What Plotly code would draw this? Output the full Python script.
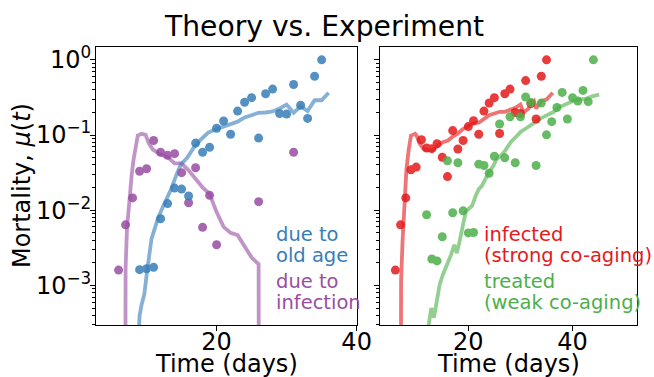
import plotly.graph_objects as go

# ---------------- data ----------------
# Left panel: experiment points
age_days = [9, 10, 11, 12, 13, 14, 15, 16, 17, 18, 19, 20, 21, 22, 23, 24, 25, 26, 27, 28, 29, 30, 31, 32, 33, 34, 35]
age_mu = [0.00162, 0.00167, 0.00174, 0.00771, 0.01225, 0.0197, 0.0191, 0.01545, 0.0782, 0.059, 0.0686, 0.123,
          0.1535, 0.1026, 0.208, 0.273, 0.314, 0.091, 0.354, 0.408, 0.1936, 0.190, 0.470, 0.249, 0.1663, 0.604, 1.0]

inf_days = [6, 7, 8, 9, 10, 11, 12, 13, 14, 15, 16, 17, 18, 19, 20, 26, 31]
inf_mu = [0.0016, 0.0064, 0.0146, 0.033, 0.0356, 0.0847, 0.059, 0.0538, 0.0566, 0.0316, 0.0126, 0.0367,
          0.00593, 0.01578, 0.00348, 0.0130, 0.059]

# Left panel: theory lines
age_th_days = [8.5, 9.0, 9.3, 9.67, 10.0, 10.33, 10.7, 11.16, 11.6, 12.3, 12.9, 13.5, 14.2, 14.9, 15.8, 16.7,
               17.7, 18.8, 20, 21, 22, 23, 24, 25, 26, 27, 28, 29, 30, 31, 32, 33, 34, 35, 36]
age_th_mu = [5.0e-5, 3.98e-4, 5.62e-4, 7.59e-4, 1.38e-3, 2.29e-3, 4.17e-3, 5.69e-3, 7.71e-3, 1.096e-2,
             1.413e-2, 1.905e-2, 2.86e-2, 4.07e-2, 4.97e-2, 6.73e-2, 8.65e-2, 0.1079, 0.1205, 0.1294,
             0.139, 0.1507, 0.1714, 0.184, 0.1977, 0.1995, 0.2056, 0.2254, 0.254, 0.1977, 0.2415, 0.208,
             0.290, 0.290, 0.3656]

inf_th_days = [6.5, 7.0, 7.2, 7.44, 7.67, 7.9, 8.14, 8.37, 8.6, 8.74, 9.3, 9.86, 10.3, 10.9, 12, 13, 14,
               15, 16, 17, 18, 19, 20, 21, 22, 23, 24, 25, 26, 26.5]
inf_th_mu = [0, 1.70e-3, 5.70e-3, 1.153e-2, 1.91e-2, 3.16e-2, 4.73e-2, 6.40e-2, 8.65e-2, 9.86e-2, 0.1038,
             0.1007, 0.0782, 0.064, 5.50e-2, 5.13e-2, 4.19e-2, 4.19e-2, 3.39e-2, 2.58e-2, 2.01e-2,
             1.64e-2, 9.44e-3, 6.0e-3, 5.0e-3, 4.66e-3, 3.27e-3, 2.35e-3, 1.92e-3, 0]

# Right panel: experiment points
strong_days = list(range(6, 36))
strong_mu = [0.0016, 0.0064, 0.0146, 0.0346, 0.0375, 0.0865, 0.0673, 0.0659, 0.0767, 0.0507, 0.0280,
             0.1146, 0.0653, 0.0847, 0.1294, 0.1552, 0.1026, 0.208, 0.267, 0.314, 0.1047, 0.354, 0.408,
             0.1995, 0.1936, 0.530, 0.262, 0.1633, 0.604, 1.0]

weak_days = list(range(12, 45))
weak_mu = [0.00871, 0.00225, 0.00212, 0.00444, 0.0454, 0.00925, 0.0428, 0.00982, 0.0050, 0.00505, 0.0410,
           0.0394, 0.0310, 0.0522, 0.140, 0.0497, 0.175, 0.0428, 0.175, 0.321, 0.270, 0.0394, 0.267,
           0.1007, 0.1507, 0.232, 0.369, 0.1633, 0.314, 0.284, 0.392, 0.278, 1.0]

# Right panel: theory lines
strong_th_days = [6.5, 7.1, 7.375, 7.75, 8.125, 8.56, 9.0, 9.8, 10.1, 10.6, 11.4, 12.3, 13.25, 14.2, 15.1,
                  16.1, 17, 17.9, 18.9, 20, 21, 22, 23, 24, 25, 26, 27, 28, 29, 30, 30.6, 31.5, 32, 32.6,
                  33, 34, 35, 36.2]
strong_th_mu = [0, 1.14e-3, 3.80e-3, 1.276e-2, 3.49e-2, 6.40e-2, 9.86e-2, 0.1038, 9.77e-2, 7.82e-2,
                6.53e-2, 6.27e-2, 6.40e-2, 7.29e-2, 8.05e-2, 8.47e-2, 9.57e-2, 0.1038, 0.1194, 0.1321,
                0.1432, 0.1459, 0.1614, 0.184, 0.1936, 0.2037, 0.2037, 0.2143, 0.2296, 0.254, 0.1995,
                0.224, 0.257, 0.282, 0.2254, 0.2838, 0.2958, 0.3656]

weak_th_days = [12.0, 12.9, 13.4, 13.9, 14.5, 15.1, 15.9, 16.7, 17.3, 17.8, 18.3, 18.9, 19.5, 20.1, 20.75,
                21.4, 22, 22.6, 23.25, 23.9, 24.8, 25.4, 26.4, 27, 27.6, 28.25, 29.2, 30.1, 31.1, 32,
                32.9, 33.9, 35.1, 36.4, 37.3, 38.25, 39.2, 40.1, 41.4, 42.6, 43.9, 45.1]
weak_th_mu = [2.0e-4, 5.01e-4, 3.72e-4, 6.17e-4, 1.023e-3, 1.38e-3, 1.86e-3, 2.57e-3, 3.47e-3, 2.69e-3,
              3.80e-3, 6.31e-3, 9.55e-3, 1.047e-2, 1.148e-2, 1.549e-2, 1.905e-2, 2.11e-2, 2.57e-2,
              3.16e-2, 3.89e-2, 4.73e-2, 5.50e-2, 6.08e-2, 7.08e-2, 8.22e-2, 9.55e-2, 0.1112, 0.123,
              0.136, 0.1507, 0.1663, 0.184, 0.2037, 0.2323, 0.249, 0.2618, 0.2838, 0.2958, 0.3048,
              0.3304, 0.3436]

y_tickvals = [1e-3, 1e-2, 1e-1, 1]
y_ticktext = ["10<sup>\u22123</sup>", "10<sup>\u22122</sup>", "10<sup>\u22121</sup>", "10<sup>0</sup>"]
x_tickvals = [20, 40]

BLUE = "#377eb8"
PURPLE = "#984ea3"
RED = "#e41a1c"
GREEN = "#4daf4a"

W, H = 654, 377
FONT = "DejaVu Sans"


def clip(vals):
    # mimic matplotlib's clipping of non-positive values on a log axis
    return [v if v > 0 else 1e-30 for v in vals]


fig = go.Figure()


def add_line(x, y, color, xa, ya):
    fig.add_trace(go.Scatter(x=x, y=clip(y), mode="lines", xaxis=xa, yaxis=ya,
                             line=dict(color=color, width=3.8), opacity=0.6,
                             hoverinfo="skip", showlegend=False))


def add_pts(x, y, color, xa, ya):
    fig.add_trace(go.Scatter(x=x, y=y, mode="markers", xaxis=xa, yaxis=ya,
                             marker=dict(color=color, size=9, line=dict(width=0)), opacity=0.85,
                             showlegend=False))


add_line(inf_th_days, inf_th_mu, PURPLE, "x", "y")
add_line(age_th_days, age_th_mu, BLUE, "x", "y")
add_pts(inf_days, inf_mu, PURPLE, "x", "y")
add_pts(age_days, age_mu, BLUE, "x", "y")

add_line(strong_th_days, strong_th_mu, RED, "x2", "y2")
add_line(weak_th_days, weak_th_mu, GREEN, "x2", "y2")
add_pts(strong_days, strong_mu, RED, "x2", "y2")
add_pts(weak_days, weak_mu, GREEN, "x2", "y2")

# geometry in pixels
L1, R1 = 98.3, 365.5
L2, R2 = 389.0, 652.0
TOP, BOT = 42.7, 324.3

minor_vals = [m * 10.0 ** e for e in range(-4, 1) for m in range(2, 10)]

common_x = dict(showline=True, linecolor="black", linewidth=1, mirror=True, ticks="outside",
                ticklen=5, tickwidth=1, tickcolor="black", showgrid=False, zeroline=False,
                tickvals=x_tickvals, tickfont=dict(family=FONT, size=24, color="black"),
                ticklabelstandoff=-10)
common_y = dict(type="log", range=[-3.526, 0.169], showline=True, linecolor="black", linewidth=1,
                mirror=True, ticks="outside", ticklen=5, tickwidth=1, tickcolor="black",
                showgrid=False, zeroline=False, tickvals=y_tickvals, ticktext=y_ticktext,
                tickfont=dict(family=FONT, size=24, color="black"),
                minor=dict(tickvals=minor_vals, ticks="outside", ticklen=3, tickwidth=1,
                           tickcolor="black", showgrid=False))

fig.update_layout(
    width=W, height=H,
    margin=dict(l=0, r=0, t=0, b=0),
    paper_bgcolor="white", plot_bgcolor="white",
    showlegend=False,
    xaxis=dict(domain=[L1 / W, R1 / W], range=[2.78, 40.07], anchor="y", **common_x),
    xaxis2=dict(domain=[L2 / W, R2 / W], range=[3.07, 52.37], anchor="y2", **common_x),
    yaxis=dict(domain=[1 - BOT / H, 1 - TOP / H], anchor="x", showticklabels=True,
               ticklabelstandoff=-6, **common_y),
    yaxis2=dict(domain=[1 - BOT / H, 1 - TOP / H], anchor="x2", matches="y", showticklabels=False,
                **common_y),
)


def ann(text, xpix, ypix, color, size, xanchor="left", angle=0):
    fig.add_annotation(text=text, x=xpix / W, y=1 - ypix / H, xref="paper", yref="paper",
                       xanchor=xanchor, yanchor="middle", showarrow=False, textangle=angle,
                       font=dict(family=FONT, size=size, color=color))


ann("Theory vs. Experiment", 332, 22, "black", 28.2, xanchor="center")
ann("Mortality, <i>\u03bc</i>(<i>t</i>)", 22, 183, "black", 24, xanchor="center", angle=-90)
ann("Time (days)", (L1 + R1) / 2, 364, "black", 24, xanchor="center")
ann("Time (days)", (L2 + R2) / 2, 364, "black", 24, xanchor="center")

LEG = 19.5
ann("due to", 280, 233, BLUE, LEG)
ann("old age", 280, 254, BLUE, LEG)
ann("due to", 280, 280, PURPLE, LEG)
ann("infection", 280, 301, PURPLE, LEG)

ann("infected", 493, 233, RED, LEG)
ann("(strong co-aging)", 493, 254, RED, LEG)
ann("treated", 493, 280, GREEN, LEG)
ann("(weak co-aging)", 493, 301, GREEN, LEG)

fig.write_html("out.html")
